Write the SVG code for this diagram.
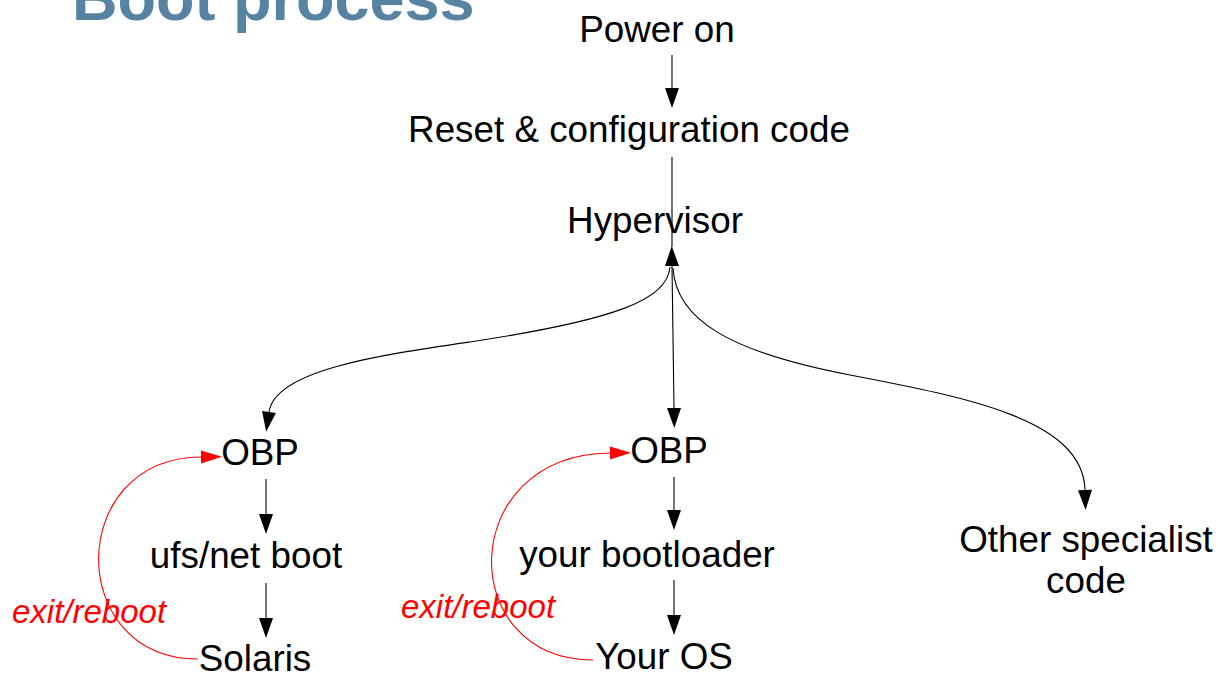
<svg xmlns="http://www.w3.org/2000/svg" width="1218" height="675" viewBox="0 0 1218 675">
<style>
  .t{font-family:"Liberation Sans",Arial,sans-serif;font-size:36.8px;fill:#000;text-anchor:middle}
  .title{font-family:"Liberation Sans",Arial,sans-serif;font-size:63px;font-weight:bold;fill:#5783A3}
  .lbl{font-family:"Liberation Sans",Arial,sans-serif;font-size:33px;font-style:italic;fill:#FF0000;text-anchor:middle}
  .c{fill:none;stroke:#000;stroke-width:1.1}
  .r{fill:none;stroke:#FF0000;stroke-width:1.1}
</style>
<defs>
  <marker id="ah" viewBox="0 -7 20 14" refX="0" refY="0" markerWidth="20" markerHeight="14" markerUnits="userSpaceOnUse" orient="auto-start-reverse" overflow="visible">
    <path d="M0,-7 L20,0 L0,7 z" fill="#000"/>
  </marker>
  <marker id="ahr" viewBox="0 -7 21 14" refX="0" refY="0" markerWidth="21" markerHeight="14" markerUnits="userSpaceOnUse" orient="auto" overflow="visible">
    <path d="M0,-6.5 L21,0 L0,6.5 z" fill="#FF0000"/>
  </marker>
</defs>
<rect width="1218" height="675" fill="#fff"/>
<text class="title" x="72" y="20">Boot process</text>

<g id="connectors">
  <line class="c" x1="672" y1="55" x2="672" y2="88" marker-end="url(#ah)"/>
  <line class="c" x1="672" y1="157" x2="672" y2="247"/>
  <line class="c" x1="672" y1="266" x2="674" y2="408" marker-start="url(#ah)" marker-end="url(#ah)"/>
  <path class="c" d="M670,267 C667,300 615,320 470,342 C380,355 275,370 269,412" marker-end="url(#ah)"/>
  <path class="c" d="M673,268 C676,320 730,352 850,375 C970,398 1083,420 1085,490" marker-end="url(#ah)"/>
  <line class="c" x1="266" y1="479" x2="266" y2="514" marker-end="url(#ah)"/>
  <line class="c" x1="266" y1="583" x2="266" y2="618" marker-end="url(#ah)"/>
  <line class="c" x1="674" y1="477" x2="674" y2="510" marker-end="url(#ah)"/>
  <line class="c" x1="674" y1="580" x2="674" y2="615" marker-end="url(#ah)"/>
  <path class="r" d="M198,659 C65,659 65,458 201,457" marker-end="url(#ahr)"/>
  <path class="r" d="M593,660 C455,660 455,455 610,453" marker-end="url(#ahr)"/>
</g>

<g id="power-on"><text class="t" x="657" y="42">Power on</text></g>
<g id="reset"><text class="t" x="629" y="142">Reset &amp; configuration code</text></g>
<g id="hypervisor"><text class="t" x="655" y="233">Hypervisor</text></g>
<g id="obp1"><text class="t" x="260" y="465">OBP</text></g>
<g id="ufs"><text class="t" x="246" y="568">ufs/net boot</text></g>
<g id="solaris"><text class="t" x="255" y="671">Solaris</text></g>
<g id="obp2"><text class="t" x="669" y="463">OBP</text></g>
<g id="bootloader"><text class="t" x="647" y="567">your bootloader</text></g>
<g id="your-os"><text class="t" x="664" y="669">Your OS</text></g>
<g id="other"><text class="t" x="1086" y="552">Other specialist</text><text class="t" x="1086" y="593">code</text></g>
<g id="labels">
  <text class="lbl" x="89" y="623">exit/reboot</text>
  <text class="lbl" x="478" y="618">exit/reboot</text>
</g>
</svg>
